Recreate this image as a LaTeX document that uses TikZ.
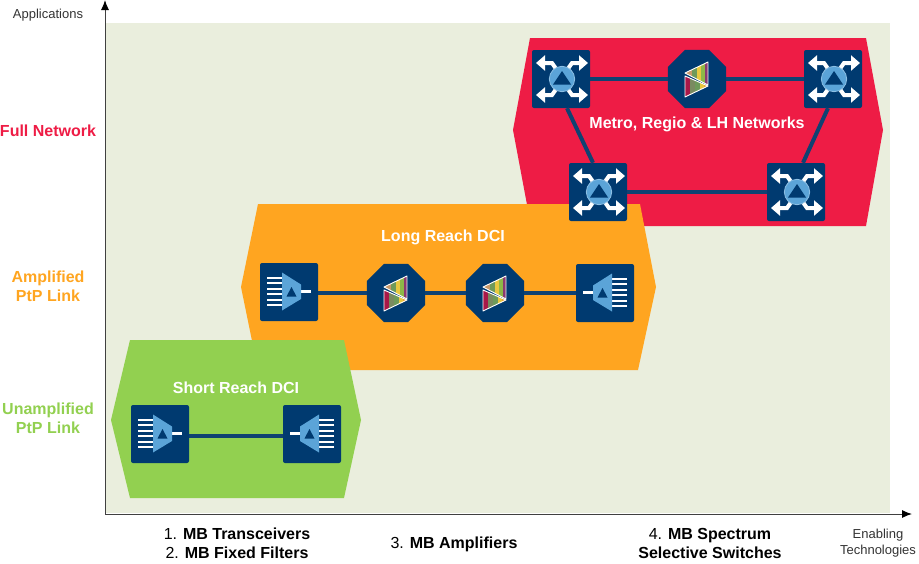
\documentclass[tikz,border=0pt]{standalone}
\usepackage{fontspec}
\setmainfont{Liberation Sans}
\usepackage{tikz}
\usetikzlibrary{arrows.meta,shapes.geometric}
\definecolor{plotbg}{HTML}{EAEEDD}
\definecolor{fullred}{HTML}{EE1C45}
\definecolor{amporange}{HTML}{FFA520}
\definecolor{unampgreen}{HTML}{92D050}
\definecolor{navy}{HTML}{003A70}
\definecolor{linkblue}{HTML}{0F4272}
\definecolor{lightblue}{HTML}{5BA4D8}
\definecolor{stripetan}{HTML}{C89868}
\definecolor{stripeolive}{HTML}{6E9A5A}
\definecolor{stripeyellow}{HTML}{E8C840}
\definecolor{stripegreen}{HTML}{8DB848}
\definecolor{stripepurple}{HTML}{8A3A70}
\definecolor{stripecrimson}{HTML}{A81848}
\definecolor{stripegrey}{HTML}{7A8A60}
\definecolor{stripeorange}{HTML}{E8A030}
\tikzset{
  iconbox/.style={draw=none,fill=navy,rounded corners=2pt,minimum size=58pt,inner sep=0pt},
  filterbox/.style={draw=none,fill=navy,regular polygon,regular polygon sides=8,minimum size=63pt,inner sep=0pt},
  link/.style={line width=4pt,linkblue},
  cat/.style={font=\bfseries\fontsize{16}{19}\selectfont,align=center},
  zone/.style={font=\bfseries\fontsize{16}{19}\selectfont,text=white},
  tech/.style={font=\fontsize{16}{19}\selectfont,align=center},
  axlabel/.style={font=\fontsize{13}{16}\selectfont,align=center,text=black!80},
  axisline/.style={line width=1pt,black!75,-{Latex[length=10pt,width=8pt,black]}},
  wharrow/.style={white,line width=4pt,-{Triangle[length=9pt,width=15pt]}},
}
\newcommand{\roadmicon}[2]{
  \node[iconbox] (#1) at (#2) {};
  \begin{scope}[shift={(#2)}]
    \draw[wharrow] (-2,-6) -- (-9,-16) -- (-25,-16);
    \draw[wharrow] (4,-6) -- (11,-16) -- (27,-16);
    \draw[wharrow] (-2,6) -- (-9,16) -- (-25,16);
    \draw[wharrow] (4,6) -- (11,16) -- (27,16);
    \fill[lightblue,draw=lightblue!70!white,line width=0.8pt] (1,0) circle (12.7);
    \fill[navy] (1,-8) -- (10,5.5) -- (-8,5.5) -- cycle;
  \end{scope}
}
\newcommand{\filtericon}[2]{
  \node[filterbox] (#1) at (#2) {};
  \begin{scope}[shift={(#2)}]
    \begin{scope}
      \clip (-12,-6) -- (11,-17) -- (11,6) -- cycle;
      \foreach \xa/\col in {-12/stripetan,-5/stripeolive,0/stripeyellow,4/stripegreen,8/stripepurple}
        \fill[\col] (\xa,-18) rectangle (11,8);
    \end{scope}
    \begin{scope}
      \clip (-12,-3) -- (-12,18) -- (11,7) -- cycle;
      \foreach \xa/\col in {-12/stripecrimson,-7/stripegrey,-2/stripeolive,3/stripeyellow,7/stripeorange}
        \fill[\col] (\xa,-4) rectangle (11,19);
    \end{scope}
    \draw[white,line width=0.9pt,line join=round] (-12,-6) -- (11,-17) -- (11,6) -- cycle;
    \draw[white,line width=0.9pt,line join=round] (-12,-3) -- (-12,18) -- (11,7) -- cycle;
  \end{scope}
}
% #3=1 for tx, #3=-1 for rx
\newcommand{\muxicon}[3]{
  \node[iconbox] (#1) at (#2) {};
  \begin{scope}[shift={(#2)},xscale=#3]
    \foreach \ya in {-14.5,-9,-3.5,2,7.5,13}
      \draw[white,line width=2pt] (-22,\ya) -- (-7,\ya);
    \draw[white,line width=3.4pt] (12,-0.5) -- (22,-0.5);
    \fill[lightblue] (-7,-19.5) -- (12,-7.5) -- (12,7) -- (-7,18.5) -- cycle;
    \fill[navy] (2.5,-5) -- (7.5,4.5) -- (-2.5,4.5) -- cycle;
  \end{scope}
}
\begin{document}
\begin{tikzpicture}[x=1pt,y=-1pt]
\useasboundingbox (0,0) rectangle (919,563);
\fill[plotbg] (105,23) rectangle (890,513);
\coordinate (origin) at (105,514);
\coordinate (ytip) at (105,0);
\coordinate (xtip) at (912,514);
\draw[axisline] (origin) -- (ytip);
\draw[axisline] (origin) -- (xtip);
% zones
\fill[fullred] (530,38) -- (866,38) -- (883,130) -- (866,226) -- (531,226) -- (513,130) -- cycle;
\fill[amporange] (258,204) -- (640,204) -- (656,287) -- (638,370) -- (258,370) -- (241,287) -- cycle;
\fill[unampgreen] (130,340) -- (344,340) -- (361,420) -- (344,498) -- (130,498) -- (111,420) -- cycle;
% full network
\roadmicon{ra}{561,79}
\filtericon{fa}{697,79}
\roadmicon{rb}{833,79}
\roadmicon{rc}{598,192}
\roadmicon{rd}{796,192}
\draw[link] (ra) -- (fa);
\draw[link] (fa) -- (rb);
\draw[link] ([xshift=6pt]ra.south) -- ([xshift=-5pt]rc.north);
\draw[link] ([xshift=-5pt]rb.south) -- ([xshift=7pt]rd.north);
\draw[link] (rc) -- (rd);
\node[zone] (metro) at (697,124) {Metro, Regio \& LH Networks};
% amplified link
\muxicon{txa}{289,292}{1}
\filtericon{fb}{396,293}
\filtericon{fc}{495,293}
\muxicon{rxa}{605,293}{-1}
\draw[link] ([yshift=-1pt]txa.east) -- (fb);
\draw[link] (fb) -- (fc);
\draw[link] (fc) -- (rxa);
\node[zone] (longreach) at (443,237) {Long Reach DCI};
% unamplified link
\muxicon{txb}{160,434}{1}
\muxicon{rxb}{312,434}{-1}
\draw[link] ([yshift=-2pt]txb.east) -- ([yshift=-2pt]rxb.west);
\node[zone] (shortreach) at (236,388) {Short Reach DCI};
% axis labels
\node[axlabel] (apps) at (48,15) {Applications};
\node[cat,text=fullred] (full) at (48,131) {Full Network};
\node[cat,text=amporange] (amp) at (48,286) {Amplified\\PtP Link};
\node[cat,text=unampgreen] (unamp) at (48,418) {Unamplified\\PtP Link};
\node[tech] (techa) at (237,543) {1. \textbf{MB Transceivers}\\2. \textbf{MB Fixed Filters}};
\node[tech] (techb) at (454,544) {3. \textbf{MB Amplifiers}};
\node[tech] (techc) at (710,543) {4. \textbf{MB Spectrum}\\\textbf{Selective Switches}};
\node[axlabel] (enabling) at (878,543) {Enabling\\Technologies};
\end{tikzpicture}
\end{document}
